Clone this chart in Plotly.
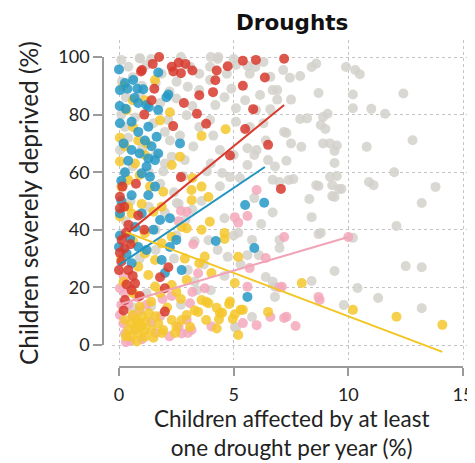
import plotly.graph_objects as go

# ---------------- data ----------------
grey_x = [0.9, 1.4, 4.0, 4.3, 5.0, 5.6, 5.95, 7.16, 7.45, 7.9, 8.4, 8.6, 9.9, 10.3, 10.5, 8.7, 10.2, 12.4,
          10.2, 11.0, 11.6, 9.1, 8.9, 8.8, 9.0, 7.9, 8.2, 7.5, 6.9, 6.9, 6.6, 7.95, 8.9, 9.2, 10.8, 12.8,
          7.2, 7.3, 9.5, 9.4, 9.4, 12.0, 10.9, 11.1, 13.8, 13.2, 9.5, 9.2, 8.7, 9.7, 9.4, 8.3, 7.6, 8.4,
          8.7, 12.1, 7.0, 9.4, 8.4, 12.5, 13.2, 10.4, 11.3, 9.8, 13.2, 10.2, 4.84, 5.6, 5.9, 6.5, 7.0, 7.4,
          9.3, 9.6, 9.3, 8.6, 8.8, 7.0, 5.8, 5.2, 4.74, 6.4, 6.8, 5.1, 1.4,
          0.92, 0.41, 1.2, 1.86, 3.1, 3.5, 3.97, 4.33, 4.7, 5.1, 5.7, 6.3, 6.6, 0.12, 2.51, 3.0, 3.97, 3.5,
          4.9, 6.15, 6.7, 2.5, 4.2, 5.1, 5.97, 2.15, 2.95, 3.5, 3.97, 5.1, 5.7, 6.3, 2.22, 2.66, 3.24, 4.11,
          4.4, 5.0, 5.6, 6.0, 6.4, 2.3, 2.87, 3.83, 4.5, 5.27, 6.7, 4.4, 2.8, 0.26, 0.04, 0.26, 1.93,
          0.1, 0.6, 1.0, 1.6, 0.3, 0.9, 1.8, 0.1, 0.7, 1.5, 2.0, 0.4, 1.0, 1.6, 2.0, 0.6, 1.3, 0.2, 1.8,
          2.4, 0.5, 1.3, 2.0, 2.6, 3.2, 0.3, 1.6, 2.5, 3.3, 0.9, 1.6, 2.4, 3.0, 3.7, 4.3, 0.6, 1.2, 2.7,
          3.3, 4.0, 4.6, 5.3, 5.6, 6.1, 5.0, 2.9, 2.52, 3.4, 5.05, 5.8, 6.7, 6.8, 3.9, 6.2, 6.7, 5.9, 6.8,
          7.3, 7.5, 4.6, 3.6, 4.0, 3.2, 4.6, 5.5, 2.2, 2.7]
grey_y = [99.6, 99.3, 100, 99.3, 99.3, 97, 96.5, 95.5, 92.8, 93.4, 96.5, 97.7, 96.5, 95.5, 94, 87.5, 87, 87.3,
          82.2, 82, 80.3, 80.3, 79.2, 76.4, 75, 78.5, 78.7, 85.2, 88.5, 85.2, 81.9, 68.8, 70, 70, 68.8, 71.1,
          74, 73.6, 69.3, 67.4, 63.2, 60, 56.6, 55.5, 54.9, 49.3, 58.7, 58.4, 55.2, 54.2, 51.4, 50.7, 57.6, 44.4,
          38.5, 41.3, 33.7, 25.7, 22.2, 27.4, 27, 19.8, 16.3, 13.9, 12.8, 37.2, 58.3, 62.5, 66, 64.2, 56.6, 57.3,
          55.5, 54.2, 51.7, 55.5, 38.9, 36.5, 36.5, 39, 30.6, 23.6, 20.2, 5.9, 13.5,
          99.5, 96.6, 97.2, 94.2, 96.6, 94.2, 96.6, 100, 94.2, 97.2, 94.2, 98.3, 93.1, 91.4, 91.4, 89.7, 92, 88.5,
          89, 86.8, 88.5, 85.6, 83.3, 82.2, 81.6, 78.1, 79.8, 75.7, 78.1, 77.5, 75.7, 77, 71, 72.7, 68.9, 72.7,
          67.7, 66, 68.3, 67.7, 71, 65.4, 64.2, 60.3, 59.7, 58, 57.4, 55.1, 58.6, 75.7, 67.7, 59.7, 60.3,
          99, 93, 90, 91, 86, 87, 84, 80, 79, 77, 74, 72, 68, 66, 63, 62, 60, 56, 56,
          53, 50, 48, 46, 49, 47, 43, 40, 38, 36, 30, 33, 30, 26, 28, 33, 13, 18, 14,
          22, 19, 24, 28, 31.2, 31.2, 38, 43.4, 49.3, 19, 6.3, 9.7, 22, 16.7, 36.4, 42, 46, 51, 62,
          64, 70, 44, 50, 63, 83, 86, 85, 88, 100]

red_x = [1.75, 1.0, 1.47, 2.3, 2.6, 2.9, 3.2, 2.7, 2.37, 4.26, 4.74, 5.4, 5.97, 7.2, 6.36, 4.2, 5.4, 1.54,
         1.42, 2.83, 3.5, 4.1, 1.1, 3.4, 5.85, 3.8, 2.36, 5.5, 6.5, 4.84, 2.7, 7.06, 0.96,
         0.15, 0.74, 0.04, 0.23, 0.04, 0.84, 0.41, 0.12, 0.23, 0.04, 2.15, 0.0, 0.41, 0.33, 0.7, 0.55,
         1.79, 2.0, 0.26, 2.0, 0.1, 0.5, 0.3, 1.1, 0.6, 0.9, 0.2]
red_y = [100, 95.5, 97.6, 96.6, 98, 97.6, 95.3, 94.4, 95, 95.3, 96.8, 98.7, 99, 99.4, 92.9, 91.9, 90, 89,
         85, 84, 86.7, 87.8, 80, 80.3, 81.9, 76.8, 76, 75, 69.5, 65.8, 58.3, 54.2, 95,
         55, 56, 51.5, 48, 47.5, 45, 41.7, 36.5, 33.5, 32, 27, 26, 26, 21, 21.4, 19,
         23.5, 19.7, 15.6, 11.6, 29, 35, 39, 40, 24, 17, 12]

blue_x = [0.0, 0.04, 0.62, 0.26, 1.06, 1.71, 2.07, 0.84, 1.2, 0.29, 1.71, 0.04, 0.55, 1.28, 0.84, 1.13,
          1.64, 1.42, 2.66, 0.55, 0.9, 1.28, 1.57, 1.2, 1.71, 0.99, 1.35, 0.26, 1.57, 0.55, 1.28, 0.04,
          0.99, 1.79, 2.22, 0.04, 0.48, 0.84, 1.2, 0.33, 2.22, 2.5, 1.86, 2.0, 2.73, 0.55, 0.0, 5.5,
          6.33, 5.9, 4.22, 5.6, 0.37, 0.8, 0.68, 0.03, 2.15, 1.3, 0.1, 0.7, 1.5, 0.2, 0.4, 0.1]
blue_y = [95.7, 88.5, 92, 91, 88.8, 94.6, 86, 84, 83.3, 82, 81.6, 77, 77.5, 75.8, 74, 71,
          72.3, 69, 70, 67.7, 66.5, 64.8, 64.2, 62, 66.5, 59.6, 58.4, 60, 55, 52, 52, 45.7,
          45.7, 43.4, 44, 38, 37, 34, 33, 31.8, 34, 36.5, 29.5, 25, 26, 28.4, 34, 48.6,
          49.4, 33.7, 36.1, 16.7, 89, 89, 85.8, 83, 87, 82.6, 50, 41, 40, 70, 64, 57]

yellow_x = [1.57, 1.13, 0.33, 1.79, 0.04, 0.62, 0.84, 0.26, 1.2, 0.04, 0.7, 2.66, 1.13, 2.3, 0.41, 1.35,
            1.93, 3.16, 3.6, 0.99, 1.86, 0.04, 0.55, 1.5, 2.95, 2.73, 3.96, 1.13, 0.62, 2.3, 1.86, 2.87,
            3.74, 1.13, 1.57, 0.84, 1.28, 1.57, 1.79, 2.3, 2.5, 2.95, 0.62, 0.91, 0.26, 0.55, 0.77, 0.99,
            1.2, 1.42, 0.84, 0.77, 1.13, 0.41, 1.71, 1.93, 2.3, 2.5, 3.3, 3.6, 3.8, 4.03, 3.2, 3.17, 3.9,
            3.6, 4.6, 4.6, 5.05, 7.97, 10.2, 12.1, 14.1, 3.45, 3.9, 4.4, 4.8, 5.3, 6.5, 4.36, 5.05, 1.87,
            2.95, 2.73, 2.45, 3.5, 5.2, 3.8, 4.26, 4.5, 4.84, 5.4, 4.96, 3.1, 4.26, 5.2, 4.65, 2.22, 3.6,
            0.5, 0.7, 1.0, 1.3, 0.3, 1.5, 0.9, 1.1, 0.6, 1.6, 2.1, 1.4, 2.7, 0.2, 0.1, 0.4, 0.1, 0.9,
            0.6, 0.2]
yellow_y = [92, 85, 81.6, 78, 72, 75.6, 71, 68.9, 70, 63.7, 63, 65.4, 66, 62.5, 57.3, 55,
            53.2, 53.8, 55, 49, 48, 44.6, 45.7, 46.3, 40.5, 41, 42.8, 38.8, 35.9, 37.6, 35.3, 30,
            30.7, 31.8, 29.5, 27.2, 24.3, 20.3, 18, 20.8, 18.5, 22.6, 18, 13.3, 8.7, 7.5, 8.7, 6.4,
            8.1, 5.2, 4, 1.2, 2.9, 5.2, 7.5, 5.2, 8.7, 6.4, 12, 15.6, 8.7, 25, 58, 50.3, 51.4,
            40, 38.9, 36.8, 21.5, 21.5, 12.2, 9.8, 7, 11.5, 14.5, 11, 14.2, 12.2, 11.5, 8.9, 10.7, 4.2,
            10.4, 8.7, 4.2, 28.4, 30.6, 15, 12.9, 11.2, 15.1, 12.2, 9, 6.3, 5.7, 3.5, 74.9, 80.8, 72.6,
            3, 6, 10, 11, 3, 2.5, 7.5, 5, 10.5, 10, 13, 15, 16, 22, 30, 48, 55, 59,
            85, 90]

pink_x = [2.95, 3.24, 2.6, 0.04, 0.26, 0.04, 0.19, 0.26, 0.7, 3.45, 3.74, 3.1, 2.95, 3.16, 4.03, 2.73,
          2.7, 5.6, 5.2, 6.0, 7.2, 6.4, 5.7, 5.6, 7.1, 8.7, 10.0, 3.2, 5.4, 6.0, 7.2, 7.7, 3.0, 2.6, 1.6,
          8.75, 7.3, 7.0, 0.4, 0.6, 0.9, 1.2, 1.0, 0.5, 1.4, 1.8, 2.2, 0.2, 0.3, 1.9, 2.3, 0.8, 0.1, 5.05,
          6.6]
pink_y = [46.3, 35, 43, 19.7, 18, 10.4, 7.5, 4, 5.2, 24.9, 19.7, 14.5, 8.7, 5.2, 6.4, 4,
          46.5, 44.8, 42.5, 53.8, 37.5, 30.2, 26.7, 20.2, 20.2, 16.7, 37.5, 18.4, 7.6, 6.9, 9.4, 6.6, 4.2, 6.3, 4.2,
          15.6, 9.8, 20, 14, 10, 12, 14, 2, 1.5, 8, 10, 3, 24, 1, 16, 17, 16.5, 14, 44.4,
          9.7]

# fitted trend lines (start / end points)
red_fit_x, red_fit_y = [0.0, 7.2], [36.5, 83.3]
blue_fit_x, blue_fit_y = [0.0, 6.36], [27.8, 61.8]
yellow_fit_x, yellow_fit_y = [0.3, 14.1], [39.2, -2.4]
pink_fit_x, pink_fit_y = [0.1, 10.0], [14.3, 37.5]

x_ticks = [0, 5, 10, 15]
y_ticks = [0, 20, 40, 60, 80, 100]

# ---------------- styling / layout ----------------
OFF = 8                      # the page body has an 8px margin
W, H = 475 - OFF, 463 - OFF
FONT = "Lato"
GREY, RED, BLUE, YELLOW, PINK = "#d4d1cb", "#d83a2d", "#2699c6", "#f4c72d", "#f3a8bb"

# pixel geometry of the reference (window pixels)
PX_X0, PX_X15 = 119, 463          # x = 0 and x = 15
PX_Y0, PX_Y100 = 345, 57          # y = 0 and y = 100
PLOT_L, PLOT_R, PLOT_T, PLOT_B = 112, 475, 40, 360
XAXIS_LINE_Y = 367
YAXIS_LINE_X = 103

ux = (PX_X15 - PX_X0) / 15.0
uy = (PX_Y0 - PX_Y100) / 100.0
x_range = [(PLOT_L - PX_X0) / ux, (PLOT_R - PX_X0) / ux]
y_range = [-(PLOT_B - PX_Y0) / uy, 100 + (PX_Y100 - PLOT_T) / uy]


def fx(px):
    return (px - OFF) / W


def fy(py):
    return 1 - (py - OFF) / H


fig = go.Figure()


def pts(x, y, color):
    fig.add_trace(go.Scatter(x=x, y=y, mode="markers", cliponaxis=False,
                             marker=dict(size=10, color=color, opacity=0.85, line=dict(width=0)),
                             hoverinfo="skip", showlegend=False))


pts(grey_x, grey_y, GREY)
pts(pink_x, pink_y, PINK)
pts(yellow_x, yellow_y, YELLOW)
pts(blue_x, blue_y, BLUE)
pts(red_x, red_y, RED)

for fxs, fys, c in [(red_fit_x, red_fit_y, RED), (blue_fit_x, blue_fit_y, "#1f94c0"),
                    (yellow_fit_x, yellow_fit_y, "#f2c522"), (pink_fit_x, pink_fit_y, "#f1a4b7")]:
    fig.add_trace(go.Scatter(x=fxs, y=fys, mode="lines", line=dict(color=c, width=2),
                             cliponaxis=False, hoverinfo="skip", showlegend=False))

# invisible trace for the offset (range-frame) axes
fig.add_trace(go.Scatter(x=[0], y=[0], xaxis="x2", yaxis="y2", mode="markers",
                         marker=dict(opacity=0), hoverinfo="skip", showlegend=False))

grid = dict(showgrid=True, gridcolor="#c4c4c4", griddash="dot", gridwidth=1,
            showline=False, zeroline=False, showticklabels=False, ticks="", automargin=False)

axis_style = dict(showline=True, linecolor="#9a9a9a", linewidth=1.5, ticks="outside",
                  tickcolor="#9a9a9a", tickwidth=1.5, showgrid=False, zeroline=False,
                  automargin=False,
                  tickfont=dict(family=FONT, size=18, color="#222222"))

fig.update_layout(
    width=W, height=H,
    margin=dict(l=0, r=0, t=0, b=0, pad=0, autoexpand=False),
    paper_bgcolor="white", plot_bgcolor="rgba(0,0,0,0)",
    xaxis=dict(domain=[fx(PLOT_L), min(1, fx(PLOT_R))], range=x_range, tickvals=x_ticks, **grid),
    yaxis=dict(domain=[fy(PLOT_B), fy(PLOT_T)], range=y_range, tickvals=y_ticks, **grid),
    xaxis2=dict(domain=[fx(PX_X0), fx(PX_X15)], range=[0, 15], tickvals=x_ticks,
                anchor="free", position=fy(XAXIS_LINE_Y), ticklen=8, ticklabelstandoff=4,
                **axis_style),
    yaxis2=dict(domain=[fy(PX_Y0), fy(PX_Y100)], range=[0, 100], tickvals=y_ticks,
                anchor="free", position=fx(YAXIS_LINE_X), side="left", ticklen=9, **axis_style),
    annotations=[
        dict(text="<b>Droughts</b>", x=fx(292), y=fy(23), xref="paper", yref="paper",
             showarrow=False, xanchor="center", yanchor="middle",
             font=dict(family="DejaVu Sans", size=21.5, color="#111111")),
        dict(text="Children affected by at least<br>one drought per year (%)", x=fx(291), y=fy(462),
             xref="paper", yref="paper", showarrow=False, xanchor="center", yanchor="bottom",
             borderpad=0, font=dict(family=FONT, size=22.5, color="#222222")),
        dict(text="Children severely deprived (%)", x=fx(28), y=fy(203), xref="paper", yref="paper",
             showarrow=False, xanchor="center", yanchor="middle", textangle=-90,
             font=dict(family=FONT, size=24.5, color="#222222")),
    ],
)

fig.write_html("out.html")
